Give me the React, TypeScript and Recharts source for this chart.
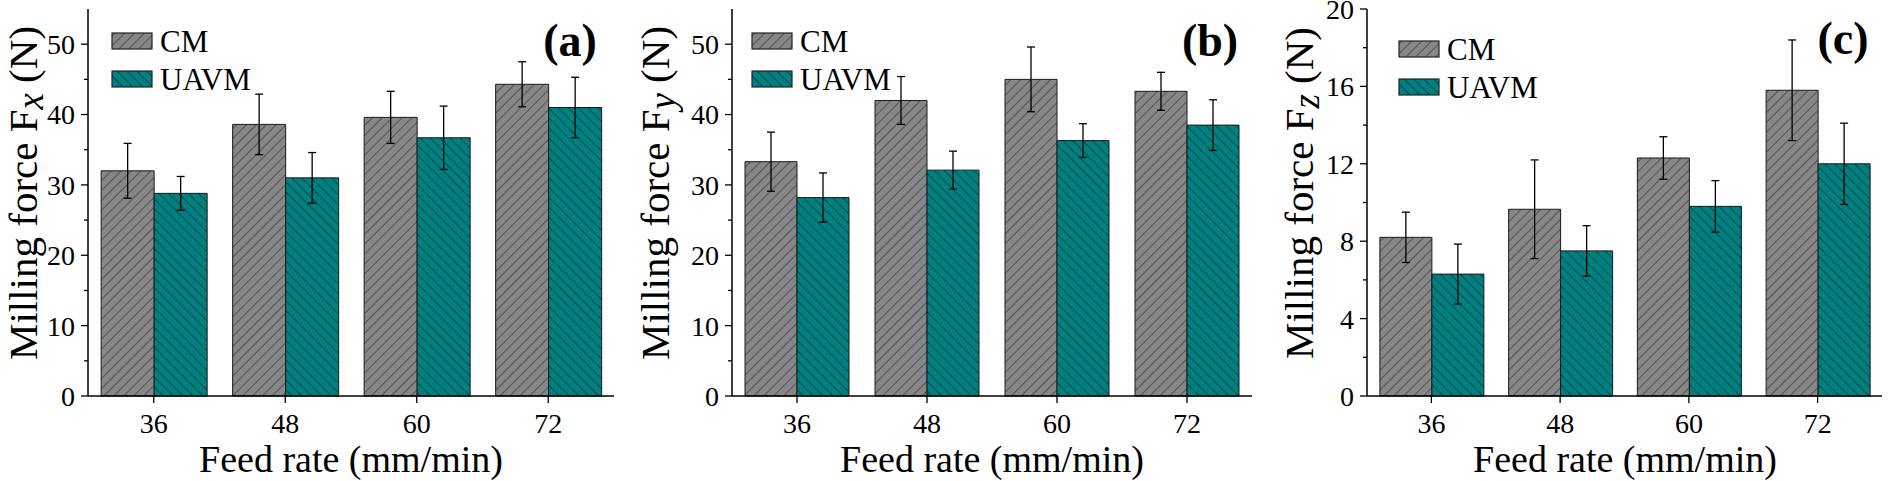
import React from 'react';
import { BarChart, Bar, XAxis, YAxis, ErrorBar, Legend } from 'recharts';

// feed rate categories (mm/min)
const feedRates = ['36', '48', '60', '72'];
const seriesNames = ['CM', 'UAVM'];

// (a) Fx
const fxCM = [32.0, 38.6, 39.6, 44.3];
const fxCMErr = [3.9, 4.3, 3.7, 3.2];
const fxUAVM = [28.8, 31.0, 36.7, 41.0];
const fxUAVMErr = [2.4, 3.6, 4.5, 4.3];

// (b) Fy
const fyCM = [33.3, 42.0, 45.0, 43.3];
const fyCMErr = [4.2, 3.4, 4.6, 2.7];
const fyUAVM = [28.2, 32.1, 36.3, 38.5];
const fyUAVMErr = [3.5, 2.7, 2.4, 3.6];

// (c) Fz
const fzCM = [8.2, 9.65, 12.3, 15.8];
const fzCMErr = [1.3, 2.55, 1.1, 2.6];
const fzUAVM = [6.3, 7.5, 9.8, 12.0];
const fzUAVMErr = [1.55, 1.3, 1.33, 2.1];

// axis ticks (major + minor)
const forceTicks = [0, 5, 10, 15, 20, 25, 30, 35, 40, 45, 50];
const fzTicks = [0, 2, 4, 6, 8, 10, 12, 14, 16, 18, 20];

const FONT = '"Liberation Serif", "Times New Roman", Times, serif';
const CM_FILL = '#878787';
const CM_HATCH = '#444444';
const UAVM_FILL = '#008080';
const UAVM_HATCH = '#003c3c';

function Hatch({ id, fill, stroke, angle }: { id: string; fill: string; stroke: string; angle: number }) {
  return (
    <pattern id={id} patternUnits="userSpaceOnUse" width={7} height={7} patternTransform={`rotate(${angle})`}>
      <rect width={7} height={7} fill={fill} />
      <line x1={3.5} y1={0} x2={3.5} y2={7} stroke={stroke} strokeWidth={0.8} />
    </pattern>
  );
}

function YTick(props: any) {
  const { x, y, payload, major } = props;
  const axisX = x + 13;
  const isMajor = payload.value % major === 0;
  return (
    <g>
      <line x1={axisX} x2={axisX - (isMajor ? 7 : 4)} y1={y} y2={y} stroke="#000" strokeWidth={1.3} />
      {isMajor && (
        <text x={x} y={y} dy="0.355em" textAnchor="end" fontSize={28} fontFamily={FONT} fill="#000">
          {payload.value}
        </text>
      )}
    </g>
  );
}

const renderLegend = (pid: string) => () => (
  <div style={{ fontFamily: FONT, fontSize: 31, color: '#000' }}>
    {seriesNames.map((name, i) => (
      <div key={name} style={{ display: 'flex', alignItems: 'center', height: 38 }}>
        <svg width={42} height={18} style={{ marginRight: 7 }}>
          <defs>
            <Hatch
              id={`lg-${pid}-${i}`}
              fill={i === 0 ? CM_FILL : UAVM_FILL}
              stroke={i === 0 ? CM_HATCH : UAVM_HATCH}
              angle={i === 0 ? 45 : -45}
            />
          </defs>
          <rect x={1} y={1} width={40} height={16} fill={`url(#lg-${pid}-${i})`} stroke="#222" strokeWidth={1.2} />
        </svg>
        <span style={{ lineHeight: 1 }}>{name}</span>
      </div>
    ))}
  </div>
);

interface PanelProps {
  id: string;
  left: number;
  width: number;
  yAxisWidth: number;
  marginRight: number;
  cm: number[];
  cmErr: number[];
  uavm: number[];
  uavmErr: number[];
  domain: [number, number];
  ticks: number[];
  major: number;
  sub: string;
  titleX: number;
  xTitleX: number;
  labelX: number;
  labelTop: number;
  legendLeft: number;
  legendTop: number;
}

function Panel(p: PanelProps) {
  const data = feedRates.map((f, i) => ({
    feed: f,
    cm: p.cm[i],
    cmErr: p.cmErr[i],
    uavm: p.uavm[i],
    uavmErr: p.uavmErr[i],
  }));
  const axisLine = { stroke: '#000', strokeWidth: 1.5 };

  return (
    <div style={{ position: 'absolute', left: p.left, top: 0, width: p.width, height: 481 }}>
      <BarChart
        width={p.width}
        height={481}
        data={data}
        margin={{ top: 9, right: p.marginRight, bottom: 0, left: 0 }}
        barCategoryGap="10%"
        barGap={0}
      >
        <defs>
          <Hatch id={`cm-${p.id}`} fill={CM_FILL} stroke={CM_HATCH} angle={45} />
          <Hatch id={`uavm-${p.id}`} fill={UAVM_FILL} stroke={UAVM_HATCH} angle={-45} />
        </defs>
        <XAxis
          dataKey="feed"
          interval={0}
          height={85}
          tickSize={7}
          tickMargin={10}
          axisLine={axisLine}
          tickLine={{ stroke: '#000', strokeWidth: 1.3 }}
          tick={{ fill: '#000', fontSize: 28, fontFamily: FONT }}
        />
        <XAxis xAxisId="top" orientation="top" dataKey="feed" height={0} tick={false} tickLine={false} axisLine={axisLine} />
        <YAxis
          domain={p.domain}
          ticks={p.ticks}
          interval={0}
          width={p.yAxisWidth}
          tickSize={7}
          tickMargin={6}
          tickLine={false}
          axisLine={axisLine}
          tick={<YTick major={p.major} />}
        />
        <YAxis yAxisId="right" orientation="right" domain={p.domain} width={0} tick={false} tickLine={false} axisLine={axisLine} />
        <Legend
          content={renderLegend(p.id)}
          layout="vertical"
          align="center"
          verticalAlign="middle"
          wrapperStyle={{ left: p.legendLeft, top: p.legendTop, width: 'auto' }}
        />
        <Bar dataKey="cm" name="CM" fill={`url(#cm-${p.id})`} stroke="#1a1a1a" strokeWidth={1} isAnimationActive={false}>
          <ErrorBar dataKey="cmErr" width={4} stroke="#000" strokeWidth={1.3} />
        </Bar>
        <Bar dataKey="uavm" name="UAVM" fill={`url(#uavm-${p.id})`} stroke="#1a1a1a" strokeWidth={1} isAnimationActive={false}>
          <ErrorBar dataKey="uavmErr" width={4} stroke="#000" strokeWidth={1.3} />
        </Bar>
      </BarChart>

      <div
        style={{
          position: 'absolute',
          left: p.titleX,
          top: 193,
          writingMode: 'vertical-rl',
          transform: 'translate(-50%, -50%) rotate(180deg)',
          whiteSpace: 'nowrap',
          fontFamily: FONT,
          fontSize: 41,
          lineHeight: 1.15,
          color: '#000',
        }}
      >
        Milling force F
        <span style={{ fontStyle: 'italic', fontSize: '0.9em', verticalAlign: '-0.22em' }}>{p.sub}</span> (N)
      </div>

      <div
        style={{
          position: 'absolute',
          left: p.xTitleX,
          top: 440,
          transform: 'translateX(-50%)',
          whiteSpace: 'nowrap',
          fontFamily: FONT,
          fontSize: 38,
          lineHeight: 1,
          color: '#000',
        }}
      >
        Feed rate (mm/min)
      </div>

      <div
        style={{
          position: 'absolute',
          left: p.labelX,
          top: p.labelTop,
          transform: 'translateX(-50%)',
          fontFamily: FONT,
          fontWeight: 'bold',
          fontSize: 46,
          lineHeight: 1,
          color: '#000',
        }}
      >
        ({p.id})
      </div>
    </div>
  );
}

export default function App() {
  return (
    <div style={{ position: 'absolute', left: 0, top: 0, width: 1889, height: 481, background: '#fff', overflow: 'hidden' }}>
      <Panel
        id="a"
        left={0}
        width={640}
        yAxisWidth={88}
        marginRight={26}
        cm={fxCM}
        cmErr={fxCMErr}
        uavm={fxUAVM}
        uavmErr={fxUAVMErr}
        domain={[0, 55]}
        ticks={forceTicks}
        major={10}
        sub="x"
        titleX={26}
        xTitleX={351}
        labelX={570}
        labelTop={18}
        legendLeft={111}
        legendTop={22}
      />
      <Panel
        id="b"
        left={640}
        width={640}
        yAxisWidth={92}
        marginRight={28}
        cm={fyCM}
        cmErr={fyCMErr}
        uavm={fyUAVM}
        uavmErr={fyUAVMErr}
        domain={[0, 55]}
        ticks={forceTicks}
        major={10}
        sub="y"
        titleX={18}
        xTitleX={352}
        labelX={570}
        labelTop={18}
        legendLeft={111}
        legendTop={22}
      />
      <Panel
        id="c"
        left={1280}
        width={609}
        yAxisWidth={87}
        marginRight={7}
        cm={fzCM}
        cmErr={fzCMErr}
        uavm={fzUAVM}
        uavmErr={fzUAVMErr}
        domain={[0, 20]}
        ticks={fzTicks}
        major={4}
        sub="z"
        titleX={22}
        xTitleX={345}
        labelX={563}
        labelTop={16}
        legendLeft={118}
        legendTop={30}
      />
    </div>
  );
}
